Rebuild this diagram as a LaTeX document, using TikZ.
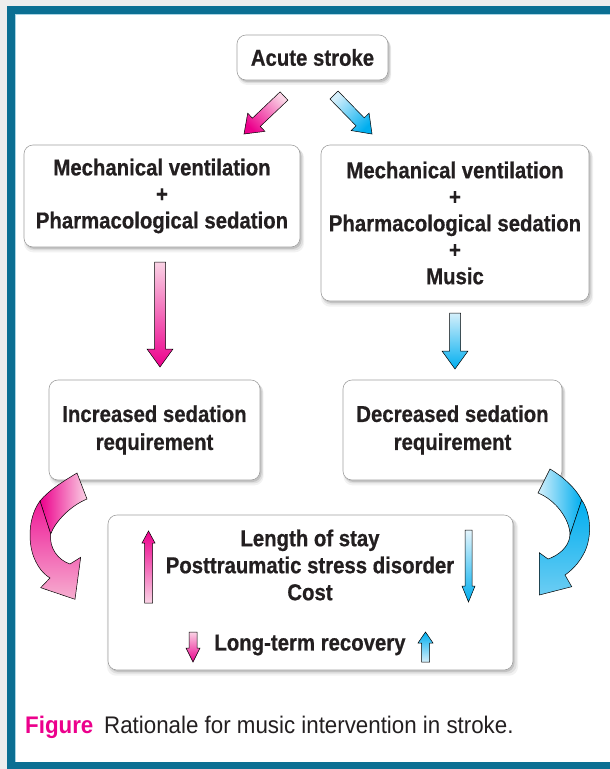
\documentclass[tikz,border=0pt]{standalone}
\usepackage{fontspec}
\setmainfont[FakeStretch=0.885, BoldFeatures={FakeBold=0.6}]{Liberation Sans}
\newfontfamily\capfont[FakeStretch=0.93]{Liberation Sans}
\usetikzlibrary{calc,shadows}
\definecolor{teal1}{HTML}{0B6F93}
\definecolor{tealL}{HTML}{A8D4E4}
\definecolor{txt}{HTML}{231F20}
\definecolor{pinkL}{HTML}{FAD3E5}
\definecolor{pinkD}{HTML}{EC008C}
\definecolor{pinkM}{HTML}{F49AC4}
\definecolor{blueL}{HTML}{D4EFFB}
\definecolor{blueD}{HTML}{00AEEF}
\definecolor{blueM}{HTML}{6CCDF3}
\definecolor{boxline}{HTML}{A0A0A0}
\tikzset{
  box/.style={draw=boxline, line width=0.6pt, fill=white, rounded corners=9pt,
    align=center, font=\fontsize{23}{26.5}\selectfont\bfseries, text=txt, inner sep=0pt,
    general shadow={fill=black, opacity=0.05, shadow xshift=2pt, shadow yshift=-4.5pt, shadow scale=1.015},
    general shadow={fill=black, opacity=0.08, shadow xshift=2pt, shadow yshift=-3pt, shadow scale=1.008},
    general shadow={fill=black, opacity=0.12, shadow xshift=1.5pt, shadow yshift=-2pt}},
  lbl/.style={align=center, font=\fontsize{23}{27}\selectfont\bfseries, text=txt, inner sep=0pt},
  arr/.style={draw=black, line width=0.5pt, line join=miter},
}
\newcommand\blockarrow[6]{%
  \coordinate (ba-c) at ($(#2)!#5!(#1)$);
  \shade[arr,#6] ($(#1)!#3!90:(#2)$) -- ($(ba-c)!#3!90:(#2)$) -- ($(ba-c)!#4!90:(#2)$) -- (#2)
    -- ($(ba-c)!#4!-90:(#2)$) -- ($(ba-c)!#3!-90:(#2)$) -- ($(#1)!#3!-90:(#2)$) -- cycle;
}
\begin{document}
\begin{tikzpicture}[x=1pt,y=-1pt]
\useasboundingbox (0,0) rectangle (610,769);
% frame
\fill[black!7] (0,0) rectangle (610,769);
\fill[white] (15,14) rectangle (610,762);
\draw[teal1, line width=8pt] (11,9.5) rectangle (660,766);
\draw[tealL, line width=0.8pt] (15.6,762) -- (15.6,14.1) -- (610,14.1);

% boxes
\node[box, minimum width=151pt, minimum height=45pt] (acute) at (312.5,57.5) {Acute stroke};
\node[box, minimum width=276pt, minimum height=102pt] (mvL) at (162,196) {Mechanical ventilation\\+\\Pharmacological sedation};
\node[box, minimum width=268pt, minimum height=156pt] (mvR) at (455,223) {Mechanical ventilation\\+\\Pharmacological sedation\\+\\Music};
\node[box, minimum width=211pt, minimum height=100pt] (inc) at (154.5,430) {Increased sedation\\[1.5pt]requirement};
\node[box, minimum width=219pt, minimum height=100pt] (dec) at (452.5,430) {Decreased sedation\\[1.5pt]requirement};
\node[box, minimum width=405pt, minimum height=155pt] (out) at (310.5,592.5) {};
\node[lbl] (outtxt) at (310,565) {Length of stay\\Posttraumatic stress disorder\\Cost};
\node[lbl] (ltr) at (310,645) {Long-term recovery};

% arrow end points
\coordinate (pdA) at (284,96);   \coordinate (pdB) at (244,134);
\coordinate (bdA) at (334,95);   \coordinate (bdB) at (372,134);
\coordinate (lvA) at (160,262);  \coordinate (lvB) at (160,367);
\coordinate (rvA) at (455,313);  \coordinate (rvB) at (455,369);
\coordinate (puA) at (148.5,603); \coordinate (puB) at (148.5,531);
\coordinate (bwA) at (468.5,530); \coordinate (bwB) at (468.5,602);
\coordinate (psA) at (193,632);  \coordinate (psB) at (193,662);
\coordinate (bsA) at (425.5,662); \coordinate (bsB) at (425.5,632);

\blockarrow{pdA}{pdB}{5.7pt}{12.5pt}{17pt}{top color=pinkL, bottom color=pinkD, shading angle=-45}
\blockarrow{bdA}{bdB}{5.7pt}{12.5pt}{17pt}{top color=blueL, bottom color=blueD, shading angle=45}
\blockarrow{lvA}{lvB}{5.5pt}{13pt}{18pt}{top color=pinkL, bottom color=pinkD}
\blockarrow{rvA}{rvB}{5.5pt}{13pt}{18pt}{top color=blueL, bottom color=blueD}
\blockarrow{puA}{puB}{4pt}{6.5pt}{12pt}{top color=pinkD, bottom color=pinkL}
\blockarrow{bwA}{bwB}{3.5pt}{6.5pt}{16pt}{top color=blueL!60!white, bottom color=blueD}
\blockarrow{psA}{psB}{4pt}{7pt}{14pt}{top color=pinkL, bottom color=pinkD}
\blockarrow{bsA}{bsB}{4pt}{7.5pt}{11pt}{top color=blueD, bottom color=blueL}

% curved pink arrow
\shade[arr, left color=pinkD, right color=pinkL]
  (77,473) .. controls (62,482) and (48,491) .. (40,501) -- (50.7,534)
  .. controls (55,522) and (70,506) .. (87,499) -- cycle;
\shade[arr, top color=pinkD!90!white, bottom color=pinkM!80!white]
  (40,501) .. controls (28,517) and (27,545) .. (36,562)
  .. controls (40,570) and (45,575) .. (50,578) -- (40.7,587.7) -- (75,599.3) -- (80.7,557.3)
  -- (70,564) .. controls (58,560) and (49,548) .. (50.7,534) -- cycle;
% curved blue arrow
\shade[arr, left color=blueL, right color=blueD]
  (550,469) .. controls (565,478) and (576,489) .. (581.7,500) -- (570,535)
  .. controls (570,520) and (556,500) .. (538,493) -- cycle;
\shade[arr, top color=blueD, bottom color=blueM]
  (581.7,500) .. controls (592,515) and (592,540) .. (583,555)
  .. controls (578,564) and (572,570) .. (565,575) -- (571.7,586.7) -- (539.3,595) -- (539.3,552.7)
  -- (548,559) .. controls (557,556) and (569,548) .. (570,535) -- cycle;

% caption
\node[anchor=base west, inner sep=0pt, font=\capfont\fontsize{24}{28}\selectfont] (cap) at (25,733)
  {\textcolor{pinkD}{\bfseries Figure}\hspace{0.45em}\textcolor{txt}{Rationale for music intervention in stroke.}};
\end{tikzpicture}
\end{document}
